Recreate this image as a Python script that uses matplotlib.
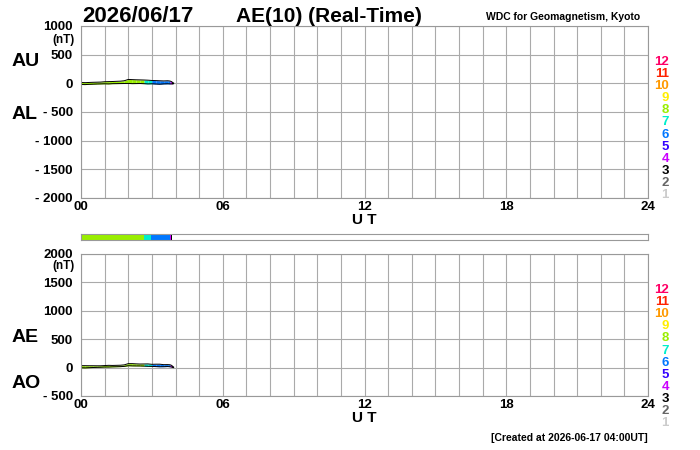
import matplotlib
matplotlib.use("Agg")
import matplotlib.pyplot as plt
import matplotlib.transforms as mtransforms
from matplotlib.patches import Rectangle
import numpy as np

plt.rcParams['font.family'] = ['Liberation Sans', 'DejaVu Sans']
plt.rcParams['font.weight'] = 'bold'

# values (hours UT, nT)
hours = [0, 0.17, 0.33, 0.5, 0.67, 0.83, 1.0, 1.17, 1.33, 1.5, 1.67, 1.83, 2.0,
         2.17, 2.33, 2.5, 2.67, 2.83, 3.0, 3.17, 3.33, 3.5, 3.67, 3.77, 3.83, 3.92]
au = [15, 12, 15, 18, 20, 22, 28, 30, 32, 35, 38, 45, 68,
      65, 62, 60, 58, 55, 50, 48, 45, 42, 45, 40, 30, 5]
al = [-20, -22, -18, -15, -12, -10, -8, -10, -6, -5, -4, -3, -2,
      -5, -4, -3, -6, -10, -8, -12, -15, -10, -8, -10, -10, -5]
stations = [8, 8, 8, 8, 8, 8, 8, 8, 8, 8, 8, 8, 8,
            8, 8, 8, 7, 7, 6, 6, 6, 6, 6, 4, 3, 3]

# station count bar segments
bar_start = [0.0, 2.67, 2.96, 3.77, 3.81]
bar_end = [2.67, 2.96, 3.77, 3.81, 3.85]
bar_count = [8, 7, 6, 4, 3]

station_colors = {1: '#cccccc', 2: '#666666', 3: '#000000', 4: '#cc00ff',
                  5: '#3300ff', 6: '#0077ff', 7: '#00eecc', 8: '#99ee00',
                  9: '#ffee00', 10: '#ff9900', 11: '#ff2200', 12: '#ff0066'}

top_ticks = [1000, 500, 0, -500, -1000, -1500, -2000]
bottom_ticks = [2000, 1500, 1000, 500, 0, -500]
x_ticks = [0, 6, 12, 18, 24]
x_labels = ['00', '06', '12', '18', '24']

t = np.array(hours)
au = np.array(au)
al = np.array(al)
ae = au - al
ao = (au + al) / 2.0

fig = plt.figure(figsize=(7, 4.5), dpi=100)
ax_top = fig.add_axes([81 / 700, 1 - 198 / 450, 567 / 700, 172 / 450])
ax_bar = fig.add_axes([81 / 700, 1 - 240 / 450, 567 / 700, 6 / 450])
ax_bot = fig.add_axes([81 / 700, 1 - 396 / 450, 567 / 700, 142 / 450])


def tick_text(v):
    if v < 0:
        return '- %d' % abs(v)
    return '%d' % v


def style_panel(ax, ticks, ymin, ymax, nt_offset):
    ax.set_xlim(0, 24)
    ax.set_ylim(ymin, ymax)
    ax.set_xticks(np.arange(0, 25, 1), minor=True)
    ax.set_xticks(x_ticks)
    ax.set_xticklabels(x_labels, fontsize=9.5, fontweight='bold')
    ax.set_yticks(ticks)
    ax.set_yticklabels([tick_text(v) for v in ticks], fontsize=9.5, fontweight='bold')
    ax.tick_params(which='both', length=0)
    ax.tick_params(axis='y', pad=6)
    ax.tick_params(axis='x', pad=2)
    ax.grid(True, which='both', color='#aaaaaa', lw=0.8)
    ax.set_axisbelow(True)
    for s in ax.spines.values():
        s.set_color('#999999')
        s.set_linewidth(0.8)
    h = ax.get_position().height
    ax.text(0.5, -15 / 450 / h, 'U T', transform=ax.transAxes, ha='center',
            va='top', fontsize=11, fontweight='bold')
    # (nT) just under the top tick label, offset in pixels
    trans = mtransforms.blended_transform_factory(ax.transAxes, ax.transData)
    trans = trans + mtransforms.ScaledTranslation(0, -nt_offset / 100, fig.dpi_scale_trans)
    ax.text(-0.012, ticks[0], '(nT)', transform=trans, ha='right', va='center',
            fontsize=8.5, fontweight='bold')
    # station count legend on the right
    for i, n in enumerate(range(12, 0, -1)):
        ax.text(1.037, 1 - (36 + 12.1 * i) / 450 / h, str(n),
                transform=ax.transAxes, ha='right', va='center', fontsize=9.5,
                fontweight='bold', color=station_colors[n])


style_panel(ax_top, top_ticks, -2000, 1000, 14)
style_panel(ax_bot, bottom_ticks, -500, 2000, 12)

# fills coloured by number of stations
for i in range(len(t) - 1):
    c = station_colors[stations[i]]
    ax_top.fill_between(t[i:i + 2], al[i:i + 2], au[i:i + 2], color=c, lw=0)
    ax_bot.fill_between(t[i:i + 2], ao[i:i + 2], ae[i:i + 2], color=c, lw=0)
ax_top.plot(t, au, color='black', lw=0.7)
ax_top.plot(t, al, color='black', lw=0.7)
ax_bot.plot(t, ae, color='black', lw=0.7)
ax_bot.plot(t, ao, color='black', lw=0.7)

# station count bar
ax_bar.set_xlim(0, 24)
ax_bar.set_ylim(0, 1)
ax_bar.set_xticks([])
ax_bar.set_yticks([])
for s in ax_bar.spines.values():
    s.set_color('#999999')
    s.set_linewidth(0.8)
for a, b, n in zip(bar_start, bar_end, bar_count):
    ax_bar.add_patch(Rectangle((a, 0), b - a, 1, color=station_colors[n], lw=0))

# labels
fig.text(12 / 700, 1 - 62 / 450, 'AU', fontsize=14, fontweight='bold', va='center')
fig.text(12 / 700, 1 - 114 / 450, 'AL', fontsize=14, fontweight='bold', va='center')
fig.text(12 / 700, 1 - 338 / 450, 'AE', fontsize=14, fontweight='bold', va='center')
fig.text(12 / 700, 1 - 384 / 450, 'AO', fontsize=14, fontweight='bold', va='center')

fig.text(82 / 700, 1 - 16 / 450, '2026/06/17', fontsize=16, fontweight='bold', va='center')
fig.text(236 / 700, 1 - 16 / 450, 'AE(10) (Real-Time)', fontsize=15,
         fontweight='bold', va='center')
fig.text(640 / 700, 1 - 17 / 450, 'WDC for Geomagnetism, Kyoto', fontsize=7.5,
         fontweight='bold', va='center', ha='right')
fig.text(648 / 700, 1 - 438 / 450, '[Created at 2026-06-17 04:00UT]', fontsize=7.5,
         fontweight='bold', va='center', ha='right')

fig.savefig('out.png', dpi=100)
